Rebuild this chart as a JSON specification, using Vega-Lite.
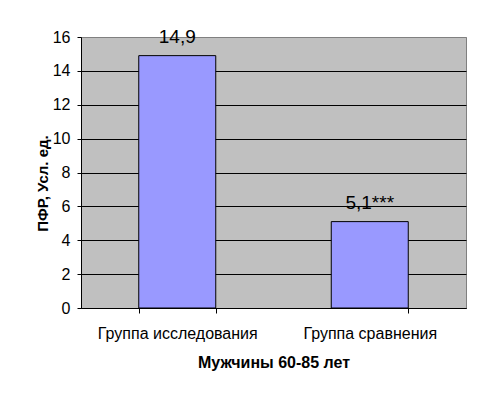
{
  "$schema": "https://vega.github.io/schema/vega-lite/v6.json",
  "width": 385,
  "height": 271,
  "autosize": {"type": "none"},
  "padding": {"left": 81, "top": 37, "right": 19, "bottom": 100},
  "background": "white",
  "config": {
    "font": "Liberation Sans",
    "view": {"fill": "#C0C0C0", "stroke": "#808080", "strokeWidth": 1}
  },
  "data": {
    "values": [
      {"group": "Группа исследования", "value": 14.9, "label": "14,9"},
      {"group": "Группа сравнения", "value": 5.1, "label": "5,1***"}
    ]
  },
  "encoding": {
    "x": {
      "field": "group",
      "type": "nominal",
      "sort": null,
      "scale": {"paddingInner": 0.6, "paddingOuter": 0.3},
      "axis": {
        "title": "Мужчины 60-85 лет",
        "titleFont": "Liberation Sans",
        "titleFontSize": 16,
        "titleFontWeight": "bold",
        "titleColor": "black",
        "titlePadding": 13,
        "labelAngle": 0,
        "labelFont": "Liberation Sans",
        "labelFontSize": 16,
        "labelColor": "black",
        "labelPadding": 12,
        "tickBand": "extent",
        "tickColor": "black",
        "tickSize": 5,
        "domainColor": "black",
        "grid": false
      }
    },
    "y": {
      "field": "value",
      "type": "quantitative",
      "scale": {"domain": [0, 16], "nice": false},
      "axis": {
        "title": "ПФР, Усл. ед.",
        "titleFont": "Liberation Sans",
        "titleFontSize": 15,
        "titleFontWeight": "bold",
        "titleColor": "black",
        "titlePadding": 2,
        "titleY": 146,
        "values": [0, 2, 4, 6, 8, 10, 12, 14, 16],
        "labelFont": "Liberation Sans",
        "labelFontSize": 16,
        "labelColor": "black",
        "labelPadding": 7,
        "tickColor": "black",
        "tickSize": 4,
        "domainColor": "black",
        "grid": true,
        "gridColor": {"condition": {"test": "datum.value == 16", "value": "#808080"}, "value": "black"},
        "gridOpacity": 1,
        "gridWidth": 1
      }
    }
  },
  "layer": [
    {
      "mark": {"type": "bar", "fill": "#9999FF", "stroke": "black", "strokeWidth": 1}
    },
    {
      "mark": {"type": "text", "fontSize": 19, "font": "Liberation Sans", "color": "black", "baseline": "alphabetic", "dy": -13},
      "encoding": {"text": {"field": "label"}}
    }
  ]
}
